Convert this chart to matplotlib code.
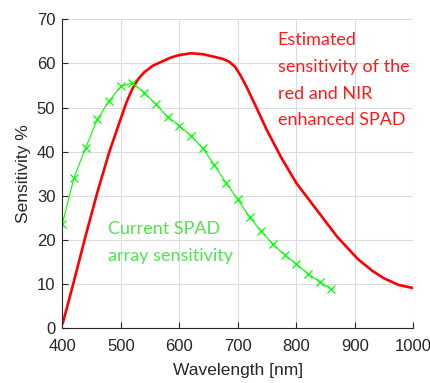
import numpy as np
import matplotlib
matplotlib.use('Agg')
import matplotlib.pyplot as plt

plt.rcParams['font.family'] = ['Liberation Sans', 'DejaVu Sans']

# current SPAD array (measured, 20 nm step)
wl_cur = np.arange(400, 861, 20)
sens_cur = [23.6, 34.1, 40.9, 47.3, 51.5, 54.8, 55.6, 53.4, 50.7, 47.9,
            45.9, 43.6, 40.8, 37.0, 32.9, 29.2, 25.2, 22.0, 19.0, 16.6,
            14.6, 12.3, 10.5, 8.8]

# estimated red/NIR enhanced SPAD
wl_est = [401, 420, 440, 460, 480, 500, 510, 520, 530, 540, 555, 570, 585,
          600, 620, 640, 660, 675, 685, 695, 705, 715, 730, 750, 775, 800,
          835, 870, 905, 930, 950, 975, 1000]
sens_est = [1.2, 10.7, 21.0, 30.8, 39.8, 47.5, 51.3, 54.3, 56.5, 58.0, 59.5,
            60.4, 61.3, 61.9, 62.3, 62.1, 61.5, 61.0, 60.4, 59.3, 57.2, 54.7,
            50.5, 44.8, 38.5, 32.9, 26.8, 20.7, 15.7, 13.0, 11.3, 9.8, 9.1]

fig = plt.figure(figsize=(4.31, 3.83), dpi=100)
ax = fig.add_axes([0.1445, 0.143, 0.8145, 0.8066])

ax.plot(wl_est, sens_est, color='#ff0000', lw=1.9)
ax.plot(wl_cur, sens_cur, color='#00ff00', lw=0.8, marker='x', ms=6, mew=0.9)

ax.set_xlim(400, 1000)
ax.set_ylim(0, 70)
ax.set_xticks(np.arange(400, 1001, 100))
ax.set_yticks(np.arange(0, 71, 10))
ax.grid(True, color='#dcdcdc', lw=0.8)
ax.set_axisbelow(True)
for s in ['top', 'right']:
    ax.spines[s].set_visible(False)
for s in ['left', 'bottom']:
    ax.spines[s].set_color('#262626')
    ax.spines[s].set_linewidth(0.8)
ax.tick_params(direction='in', length=4, colors='#262626', labelsize=12,
               labelcolor='#262626')
ax.tick_params(axis='x', pad=8)
ax.tick_params(axis='y', pad=5)
ax.set_xlabel('Wavelength [nm]', fontsize=12.5, color='#262626', labelpad=6)
ax.set_ylabel('Sensitivity %', fontsize=12.5, color='#262626', labelpad=4)

ax.text(0.614, 0.958, 'Estimated\nsensitivity of the\nred and NIR\nenhanced SPAD',
        transform=ax.transAxes, color='#ff1a1a', fontsize=13, family='Lato',
        va='top', ha='left', linespacing=1.82)
ax.text(0.130, 0.348, 'Current SPAD\narray sensitivity',
        transform=ax.transAxes, color='#4ee44e', fontsize=13, family='Lato',
        va='top', ha='left', linespacing=1.85)

fig.savefig('out.png', dpi=100)
